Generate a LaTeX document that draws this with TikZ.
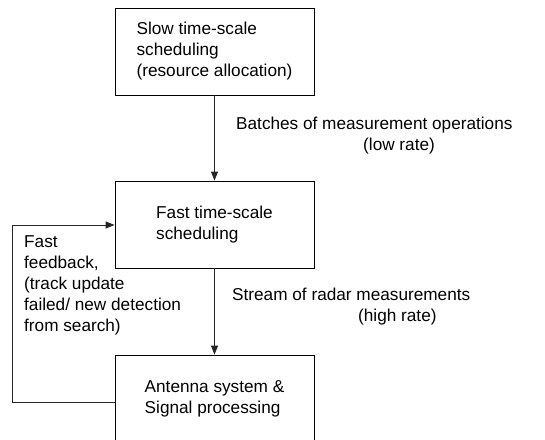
\documentclass[tikz,border=0pt]{standalone}
\usepackage{fontspec}
\setmainfont{Liberation Sans}
\usetikzlibrary{arrows.meta}
\begin{document}
\begin{tikzpicture}[x=1pt,y=-1pt,
  font=\fontsize{17.2}{21}\selectfont,
  blockbox/.style={draw, line width=0.8pt, minimum width=199pt, minimum height=87pt, align=left, inner sep=0pt},
  lbl/.style={align=left, inner sep=0pt, anchor=west},
  conn/.style={line width=0.8pt, draw=black!85, -{Triangle[length=9pt,width=7pt]}}]
\useasboundingbox (0,0) rectangle (545,439);
\clip (0,0) rectangle (545,439);
\node[blockbox] (b1) at (214.5,51.5) {Slow time-scale\\scheduling\\(resource allocation)};
\node[blockbox] (b2) at (214.5,224.5) {Fast time-scale\\scheduling};
\node[blockbox] (b3) at (214.5,398.5) {Antenna system \&\\Signal processing};
\node[lbl] (l1) at (236,136) {Batches of measurement operations\\\hspace*{127pt}(low rate)};
\node[lbl] (l2) at (232,307) {Stream of radar measurements\\\hspace*{126pt}(high rate)};
\node[lbl] (l3) at (24,285.5) {Fast\\feedback,\\(track update\\failed/ new detection\\from search)};
\coordinate (fa) at (12,402);
\coordinate (fb) at (12,225);
\draw[conn] (b1) -- (b2);
\draw[conn] (b2) -- (b3);
\draw[conn] (b3.west |- fa) -- (fa) -- (fb) -- (b2.west |- fb);
\end{tikzpicture}
\end{document}
